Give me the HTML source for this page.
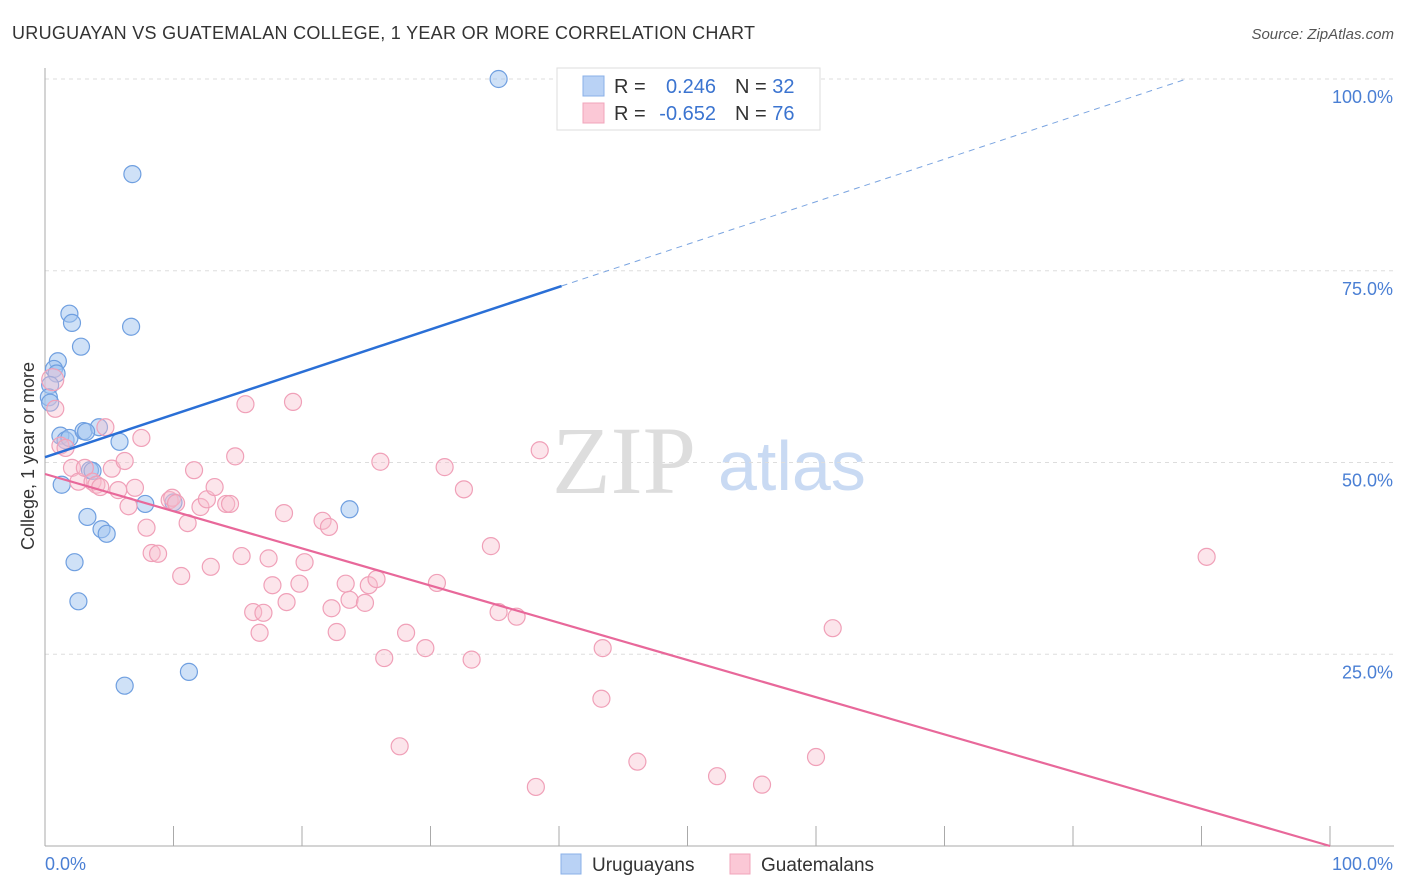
<!DOCTYPE html>
<html><head><meta charset="utf-8">
<style>
body{margin:0;background:#fff;font-family:"Liberation Sans",sans-serif;}
svg{display:block}
</style></head>
<body>
<svg id="chart" width="1406" height="892">
<text x="12" y="39" font-size="18" fill="#333" textLength="743">URUGUAYAN VS GUATEMALAN COLLEGE, 1 YEAR OR MORE CORRELATION CHART</text>
<text x="1394" y="39" font-size="15" fill="#555" font-style="italic" text-anchor="end">Source: ZipAtlas.com</text>
<text x="34" y="456" font-size="18" fill="#333" transform="rotate(-90 34 456)" text-anchor="middle" dy="0">College, 1 year or more</text>
<text x="552" y="493" font-size="96" fill="#ddd" font-family="Liberation Serif,serif">ZIP</text>
<text x="718" y="490" font-size="70" fill="#c9daf3">atlas</text>
<g id="grid"></g><g id="axes"></g><g id="pts"></g><g id="lines"></g>
<g>
<rect x="557" y="68" width="263" height="62" fill="#fff" stroke="#ddd"/>
<rect x="583" y="76" width="21" height="20" fill="#b9d2f5" stroke="#8ab0e8"/>
<rect x="583" y="103" width="21" height="20" fill="#fbc8d6" stroke="#f0a5bb"/>
<text x="614" y="93" font-size="20" fill="#333">R =</text>
<text x="716" y="93" font-size="20" fill="#3b74d0" text-anchor="end">0.246</text>
<text x="735" y="93" font-size="20" fill="#333">N = <tspan fill="#3b74d0">32</tspan></text>
<text x="614" y="120" font-size="20" fill="#333">R =</text>
<text x="716" y="120" font-size="20" fill="#3b74d0" text-anchor="end">-0.652</text>
<text x="735" y="120" font-size="20" fill="#333">N = <tspan fill="#3b74d0">76</tspan></text>
</g>
<g>
<rect x="561" y="854" width="20" height="20" fill="#b9d2f5" stroke="#8ab0e8"/>
<text x="592" y="871" font-size="19" fill="#333">Uruguayans</text>
<rect x="730" y="854" width="20" height="20" fill="#fbc8d6" stroke="#f0a5bb"/>
<text x="761" y="871" font-size="19" fill="#333">Guatemalans</text>
</g>
</svg>
<script>
const blueX=[35.3,6.8,1.9,2.1,6.7,2.8,1.0,0.7,0.9,0.4,0.3,0.4,1.2,1.6,1.9,3.0,4.2,3.2,5.8,3.5,3.7,1.3,7.8,10.0,3.3,4.4,4.8,23.7,2.3,2.6,6.2,11.2];
const blueY=[100,87.6,69.4,68.2,67.7,65.1,63.2,62.2,61.6,60.1,58.5,57.8,53.5,52.9,53.2,54.1,54.6,54.0,52.7,49.0,48.9,47.1,44.6,44.8,42.9,41.3,40.7,43.9,37.0,31.9,20.9,22.7];
const pinkX=[0.6,0.8,1.2,1.6,2.1,2.6,3.1,3.7,4.0,4.3,4.7,5.2,5.7,6.2,6.5,7.0,7.5,7.9,8.3,8.8,9.7,9.9,10.2,10.6,11.1,11.6,12.1,12.6,12.9,13.2,14.1,14.4,14.8,15.3,15.6,16.2,16.7,17.0,17.4,17.7,18.6,18.8,19.3,19.8,20.2,21.6,22.1,22.3,22.7,23.4,23.7,24.9,25.2,25.8,26.4,26.1,27.6,28.1,29.6,30.5,31.1,32.6,33.2,34.7,35.3,36.7,38.2,38.5,43.3,43.4,46.1,52.3,55.8,60.0,61.3,90.4];
const pinkY=[60.8,57.0,52.2,51.9,49.3,47.5,49.3,47.5,47.1,46.8,54.6,49.2,46.4,50.2,44.3,46.7,53.2,41.5,38.2,38.1,45.1,45.4,44.7,35.2,42.1,49.0,44.2,45.2,36.4,46.8,44.6,44.6,50.8,37.8,57.6,30.5,27.8,30.4,37.5,34.0,43.4,31.8,57.9,34.2,37.0,42.4,41.6,31.0,27.9,34.2,32.1,31.7,34.0,34.8,24.5,50.1,13.0,27.8,25.8,34.3,49.4,46.5,24.3,39.1,30.5,29.9,7.7,51.6,19.2,25.8,11.0,9.1,8.0,11.6,28.4,37.7];
const yTicks=[25,50,75,100];
const yTickLabels=["25.0%","50.0%","75.0%","100.0%"];
const xTicks=[0,10,20,30,40,50,60,70,80,90,100];
const blueTrend=[50.7,0.555];
const pinkTrend=[48.5,-0.485];
const NS="http://www.w3.org/2000/svg";
const sx=v=>45+v*12.85, sy=v=>846-v*7.67;
function mk(parent,tag,attrs){const e=document.createElementNS(NS,tag);for(const k in attrs)e.setAttribute(k,attrs[k]);document.getElementById(parent).appendChild(e);return e;}
yTicks.forEach((t,i)=>{
  const l=mk('grid','line',{x1:45,x2:1394,y1:sy(t),y2:sy(t),stroke:'#ddd','stroke-dasharray':'4,4'});
  
  
  const tx=mk('grid','text',{x:1393,y:sy(t)+24,'font-size':18,fill:'#4a7fd4','text-anchor':'end'});
  tx.textContent=yTickLabels[i];
  
  
});
mk('axes','line',{x1:45,x2:45,y1:68,y2:846,stroke:'#aaa'});
const xa=mk('axes','line',{x1:45,x2:1394,y1:846,y2:846,stroke:'#aaa'});


xTicks.forEach(t=>{const l=mk('axes','line',{x1:sx(t),x2:sx(t),y1:826,y2:846,stroke:'#aaa'});

});
let a=mk('axes','text',{x:45,y:870,'font-size':18,fill:'#4a7fd4'});a.textContent='0.0%';


a=mk('axes','text',{x:1393,y:870,'font-size':18,fill:'#4a7fd4','text-anchor':'end'});a.textContent='100.0%';


blueX.forEach((x,i)=>{const c=mk('pts','circle',{cx:sx(x),cy:sy(blueY[i]),r:8.5,fill:'rgba(160,196,240,0.5)',stroke:'#6f9fe0','stroke-width':1.2});

});
pinkX.forEach((x,i)=>{const c=mk('pts','circle',{cx:sx(x),cy:sy(pinkY[i]),r:i==0?11:8.5,fill:'rgba(248,190,205,0.4)',stroke:'#f0a0b8','stroke-width':1.2});

});
const bxEnd=40.2, bxDash=(100-blueTrend[0])/blueTrend[1];
let t=mk('lines','line',{x1:sx(0),y1:sy(blueTrend[0]),x2:sx(bxEnd),y2:sy(blueTrend[0]+blueTrend[1]*bxEnd),stroke:'#2a6fd6','stroke-width':2.5});


t=mk('lines','line',{x1:sx(bxEnd),y1:sy(blueTrend[0]+blueTrend[1]*bxEnd),x2:sx(bxDash),y2:sy(100),stroke:'#7aa4e0','stroke-width':1,'stroke-dasharray':'6,5'});


t=mk('lines','line',{x1:sx(0),y1:sy(pinkTrend[0]),x2:sx(100),y2:sy(pinkTrend[0]+pinkTrend[1]*100),stroke:'#e8689a','stroke-width':2.2});


</script>
</body></html>
